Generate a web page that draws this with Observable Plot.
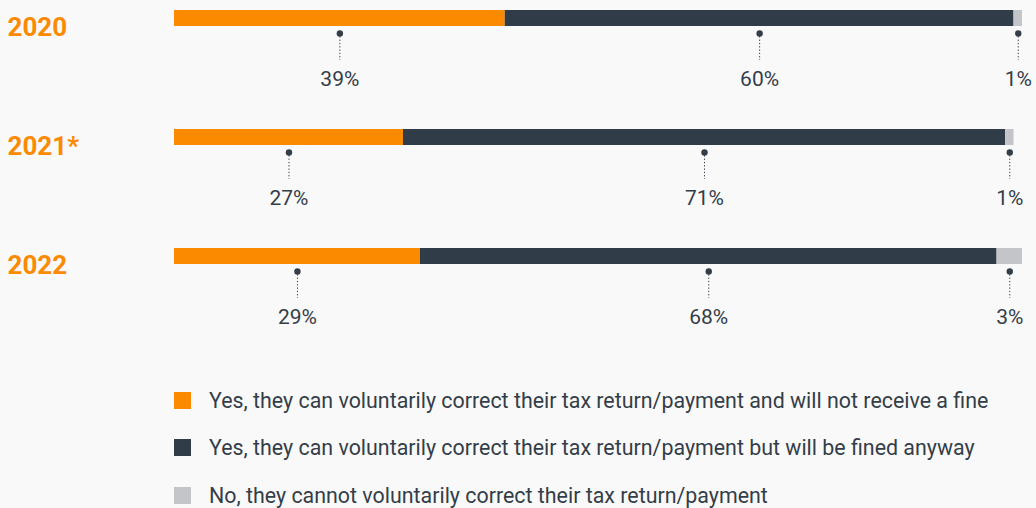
<!DOCTYPE html>
<html>
<head>
<meta charset="utf-8">
<script src="https://cdn.jsdelivr.net/npm/d3@7"></script>
<script src="https://cdn.jsdelivr.net/npm/@observablehq/plot@0.6"></script>
<style>
  html, body { margin: 0; padding: 0; background: #faf9fa; }
  #wrap { position: relative; width: 1036px; height: 508px; overflow: hidden; background: #faf9fa; font-family: Roboto, "Open Sans", sans-serif; }
  #chart { position: absolute; left: 0; top: 0; }
  #legend { position: absolute; left: 174px; top: 388px; }
  .item { display: flex; align-items: center; height: 24px; margin-bottom: 23.5px; font-size: 21.4px; color: #333e48; white-space: nowrap; }
  .sw { width: 17px; height: 17px; margin-right: 18px; flex: none; }
</style>
</head>
<body>
<div id="wrap">
  <div id="chart"></div>
  <div id="legend"></div>
</div>
<script>
const years = ["2020", "2021*", "2022"];
const yesNoFine = [39, 27, 29];
const yesFined = [60, 71, 68];
const noCorrect = [1, 1, 3];
const seriesNames = [
  "Yes, they can voluntarily correct their tax return/payment and will not receive a fine",
  "Yes, they can voluntarily correct their tax return/payment but will be fined anyway",
  "No, they cannot voluntarily correct their tax return/payment"
];
const seriesColors = ["#fb8a00", "#303d48", "#c4c5c9"];

const seriesValues = [yesNoFine, yesFined, noCorrect];
const rows = [];
years.forEach((year, i) => {
  let acc = 0;
  seriesValues.forEach((vals, s) => {
    const v = vals[i];
    rows.push({year, series: seriesNames[s], value: v, x1: acc, x2: acc + v, mid: acc + v / 2});
    acc += v;
  });
});

const textColor = "#333e48";

const chart = Plot.plot({
  width: 1036,
  height: 380,
  marginLeft: 174,
  marginRight: 14,
  marginTop: 10,
  marginBottom: 0,
  style: {background: "transparent", fontFamily: "Roboto, sans-serif"},
  x: {domain: [0, 100], axis: null},
  y: {domain: years, range: [10, 264], paddingInner: 103 / 119, paddingOuter: 0, align: 0, axis: null},
  color: {domain: seriesNames, range: seriesColors},
  marks: [
    Plot.barX(rows, {x1: "x1", x2: "x2", y: "year", fill: "series"}),
    Plot.ruleX(rows, {x: "mid", y1: "year", y2: "year", insetTop: 23, insetBottom: -34, stroke: textColor, strokeWidth: 1, strokeDasharray: "1.3,2"}),
    Plot.dot(rows, {x: "mid", y: "year", dy: 15, r: 3.2, fill: textColor, stroke: null}),
    Plot.text(rows, {x: "mid", y: "year", dy: 61, text: d => d.value + "%", fill: textColor, fontSize: 21, lineAnchor: "middle"}),
    Plot.text(years, {y: d => d, text: d => d, frameAnchor: "left", dx: -167, dy: 9, textAnchor: "start", fill: "#fb8a00", fontSize: 26, fontWeight: "bold", lineAnchor: "middle"})
  ]
});
document.getElementById("chart").appendChild(chart);

const legend = document.getElementById("legend");
seriesNames.forEach((name, i) => {
  const item = document.createElement("div");
  item.className = "item";
  const sw = document.createElement("span");
  sw.className = "sw";
  sw.style.background = seriesColors[i];
  const label = document.createElement("span");
  label.textContent = name;
  item.appendChild(sw);
  item.appendChild(label);
  legend.appendChild(item);
});
</script>
</body>
</html>
